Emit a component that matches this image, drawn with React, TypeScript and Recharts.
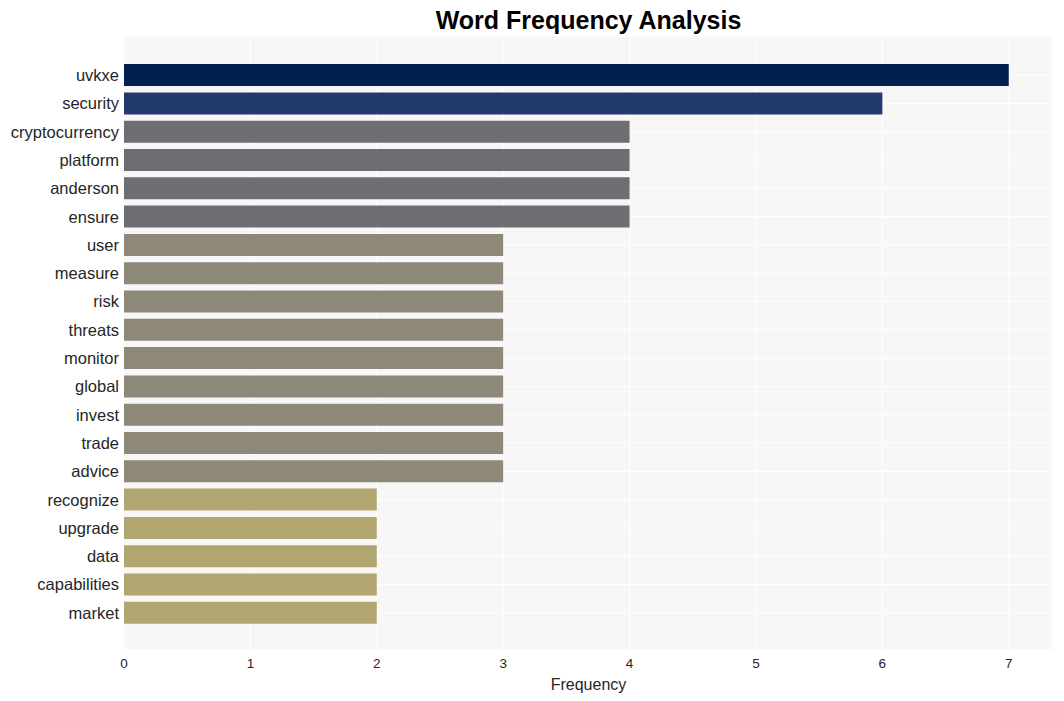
import React from "react";
import { BarChart, Bar, XAxis, YAxis, CartesianGrid, Cell } from "recharts";

const words = [
  "uvkxe", "security", "cryptocurrency", "platform", "anderson", "ensure",
  "user", "measure", "risk", "threats", "monitor", "global", "invest", "trade",
  "advice", "recognize", "upgrade", "data", "capabilities", "market",
];
const counts = [7, 6, 4, 4, 4, 4, 3, 3, 3, 3, 3, 3, 3, 3, 3, 2, 2, 2, 2, 2];
const xTicks = [0, 1, 2, 3, 4, 5, 6, 7];

// cividis-like shades by count
const colorByCount: Record<number, string> = {
  7: "#00204f",
  6: "#233b6c",
  4: "#6d6e72",
  3: "#8e8878",
  2: "#b1a570",
};

const data = words.map((w, i) => ({ word: w, count: counts[i] }));

const font = "'Liberation Sans', Arial, sans-serif";

export default function App() {
  return (
    <div style={{ position: "absolute", left: 0, top: 0, width: 1064, height: 701, background: "#fff", fontFamily: font }}>
      <div
        style={{
          position: "absolute",
          left: 124,
          width: 929,
          top: 6,
          textAlign: "center",
          fontSize: 25,
          fontWeight: "bold",
          color: "#000",
        }}
      >
        Word Frequency Analysis
      </div>
      <BarChart
        width={1064}
        height={701}
        data={data}
        layout="vertical"
        margin={{ top: 36, right: 11, bottom: 0, left: 0 }}
        barCategoryGap="11%"
      >
        <CartesianGrid fill="#f7f7f7" stroke="#ffffff" strokeWidth={1} />
        <XAxis
          type="number"
          domain={[0, 7.35]}
          ticks={xTicks}
          height={51}
          tickLine={false}
          axisLine={false}
          tick={{ fontSize: 13.5, fill: "#262626", fontFamily: font }}
          tickMargin={2}
          label={{ value: "Frequency", position: "insideBottom", offset: 11, fontSize: 16, fill: "#262626", fontFamily: font }}
        />
        <YAxis
          type="category"
          dataKey="word"
          width={124}
          tickLine={false}
          axisLine={false}
          interval={0}
          padding={{ top: 25, bottom: 23 }}
          tick={{ fontSize: 16.5, fill: "#262626", fontFamily: font }}
          tickSize={5}
          tickMargin={0}
        />
        <Bar dataKey="count" isAnimationActive={false}>
          {data.map((d, i) => (
            <Cell key={i} fill={colorByCount[d.count]} />
          ))}
        </Bar>
      </BarChart>
    </div>
  );
}
